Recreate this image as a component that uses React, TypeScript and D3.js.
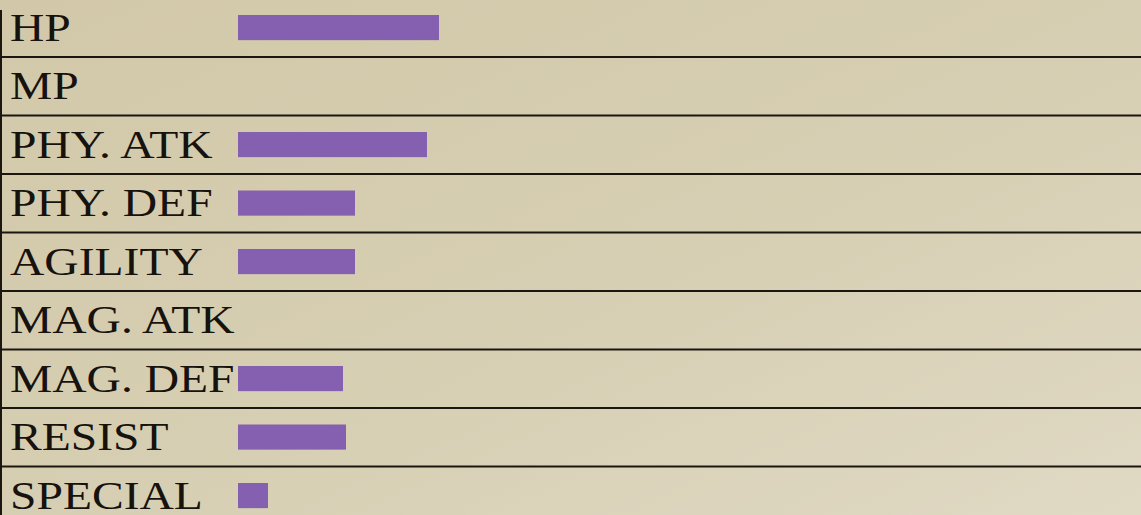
import React from "react";
import * as d3 from "d3";

const categories = ["HP", "MP", "PHY. ATK", "PHY. DEF", "AGILITY", "MAG. ATK", "MAG. DEF", "RESIST", "SPECIAL"];
const values = [67, 0, 63, 39, 39, 0, 35, 36, 10];
const maxValue = 100;

const W = 1141;
const H = 515;

export default function App() {
  const rowH = 58.5;
  const y = d3
    .scaleBand<string>()
    .domain(categories)
    .range([-1.5, -1.5 + rowH * categories.length])
    .paddingInner(0)
    .paddingOuter(0);
  const x = d3.scaleLinear().domain([0, maxValue]).range([238, 538]);
  const bw = y.bandwidth();

  return (
    <svg
      width={W}
      height={H}
      style={{ position: "absolute", left: 0, top: 0, display: "block" }}
    >
      <defs>
        <linearGradient id="bg" x1="0" y1="0" x2="1" y2="1">
          <stop offset="0%" stopColor="#d2c8a9" />
          <stop offset="55%" stopColor="#d7cfb3" />
          <stop offset="100%" stopColor="#e0d9c4" />
        </linearGradient>
      </defs>
      <rect x={0} y={0} width={W} height={H} fill="url(#bg)" />

      {/* row separator lines */}
      {categories.slice(0, -1).map((c) => {
        const yy = (y(c) as number) + bw;
        return (
          <line key={"l" + c} x1={0} x2={W} y1={yy} y2={yy} stroke="#1c1611" strokeWidth={2} />
        );
      })}

      {/* left vertical line */}
      <line x1={1} x2={1} y1={10} y2={H} stroke="#1c1611" strokeWidth={2} />

      {/* bars */}
      {categories.map((c, i) =>
        values[i] > 0 ? (
          <rect
            key={"b" + c}
            x={x(0)}
            y={(y(c) as number) + bw * 0.282}
            width={x(values[i]) - x(0)}
            height={bw * 0.43}
            fill="#8660b0"
          />
        ) : null
      )}

      {/* labels */}
      {categories.map((c) => (
        <text
          key={"t" + c}
          transform={`translate(10, ${(y(c) as number) + bw * 0.72}) scale(1.16, 1)`}
          x={0}
          y={0}
          fontFamily="'Liberation Serif', 'Times New Roman', serif"
          fontSize={41}
          fill="#17120d"
        >
          {c}
        </text>
      ))}
    </svg>
  );
}
